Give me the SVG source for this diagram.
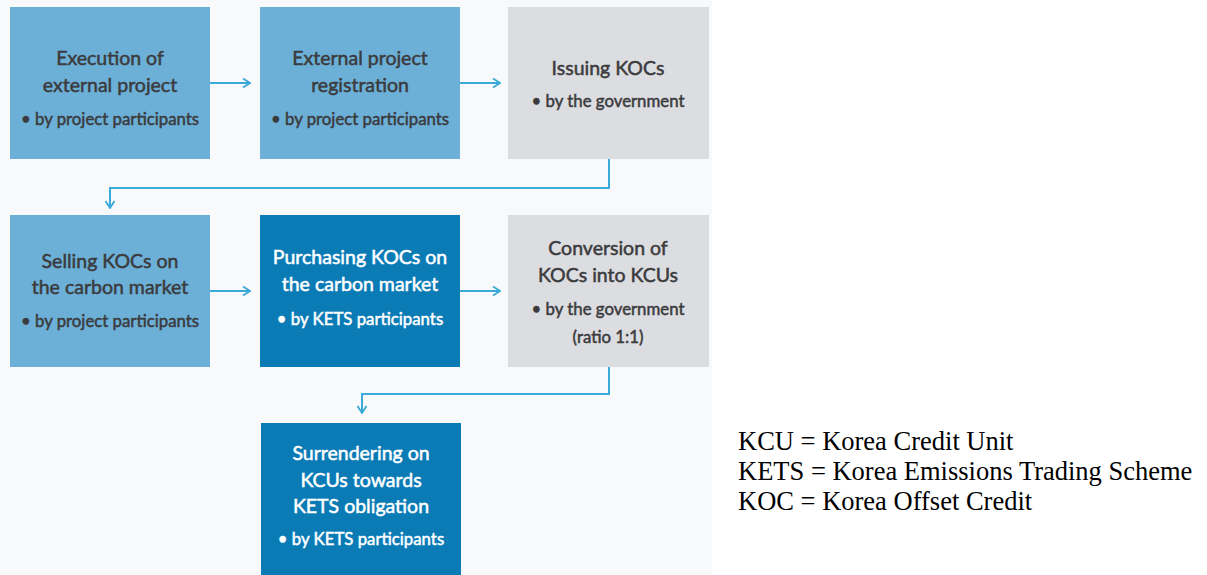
<svg xmlns="http://www.w3.org/2000/svg" width="1207" height="575" viewBox="0 0 1207 575">
  <style>
    .panel { fill: #f8f9fa; }
    .light { fill: #6cb0d8; }
    .dark { fill: #0b7bb6; }
    .grey { fill: #dcdde0; }
    .t { font-family: Lato, "Open Sans", sans-serif; font-size: 19.5px; text-anchor: middle; fill: #3b3b3d; stroke: #3b3b3d; stroke-width: 0.5px; }
    .b { font-size: 16.8px; }
    .w { fill: #ffffff; stroke: #ffffff; }
    .conn { fill: none; stroke: #3aaad8; stroke-width: 2; }
    .legend { font-family: "Liberation Serif", "Times New Roman", serif; font-size: 26.5px; fill: #000; }
  </style>
  <defs>
    <marker id="chev" viewBox="0 0 10 10" refX="9" refY="5" markerWidth="10" markerHeight="10" markerUnits="userSpaceOnUse" orient="auto">
      <path d="M2,0.5 L9,5 L2,9.5" fill="none" stroke="#3aaad8" stroke-width="1.8"/>
    </marker>
  </defs>

  <rect class="panel" x="0" y="0" width="712" height="575"/>

  <g id="n1">
    <rect class="light" x="10" y="7" width="200" height="152"/>
    <text class="t" x="110" y="65">Execution of</text>
    <text class="t" x="110" y="92">external project</text>
    <text class="t b" x="110" y="125">• by project participants</text>
  </g>
  <g id="n2">
    <rect class="light" x="260" y="7" width="200" height="152"/>
    <text class="t" x="360" y="65">External project</text>
    <text class="t" x="360" y="92">registration</text>
    <text class="t b" x="360" y="125">• by project participants</text>
  </g>
  <g id="n3">
    <rect class="grey" x="508" y="7" width="201" height="152"/>
    <text class="t" x="608" y="75">Issuing KOCs</text>
    <text class="t b" x="608" y="107">• by the government</text>
  </g>
  <g id="n4">
    <rect class="light" x="10" y="215" width="200" height="152"/>
    <text class="t" x="110" y="268">Selling KOCs on</text>
    <text class="t" x="110" y="294">the carbon market</text>
    <text class="t b" x="110" y="327">• by project participants</text>
  </g>
  <g id="n5">
    <rect class="dark" x="260" y="215" width="200" height="152"/>
    <text class="t w" x="360" y="264">Purchasing KOCs on</text>
    <text class="t w" x="360" y="291">the carbon market</text>
    <text class="t b w" x="360" y="325">• by KETS participants</text>
  </g>
  <g id="n6">
    <rect class="grey" x="508" y="215" width="201" height="152"/>
    <text class="t" x="608" y="255">Conversion of</text>
    <text class="t" x="608" y="282">KOCs into KCUs</text>
    <text class="t b" x="608" y="315">• by the government</text>
    <text class="t b" x="608" y="343">(ratio 1:1)</text>
  </g>
  <g id="n7">
    <rect class="dark" x="261" y="423" width="200" height="152"/>
    <text class="t w" x="361" y="460">Surrendering on</text>
    <text class="t w" x="361" y="487">KCUs towards</text>
    <text class="t w" x="361" y="513">KETS obligation</text>
    <text class="t b w" x="361" y="545">• by KETS participants</text>
  </g>

  <g id="connectors">
    <path class="conn" d="M210,83 H250" marker-end="url(#chev)"/>
    <path class="conn" d="M460,83 H500" marker-end="url(#chev)"/>
    <path class="conn" d="M609,159 V188 H110 V208" marker-end="url(#chev)"/>
    <path class="conn" d="M210,291 H250" marker-end="url(#chev)"/>
    <path class="conn" d="M460,291 H500" marker-end="url(#chev)"/>
    <path class="conn" d="M609,367 V394 H362 V413" marker-end="url(#chev)"/>
  </g>

  <g id="legend">
    <text class="legend" x="738" y="450">KCU = Korea Credit Unit</text>
    <text class="legend" x="738" y="480">KETS = Korea Emissions Trading Scheme</text>
    <text class="legend" x="738" y="510">KOC = Korea Offset Credit</text>
  </g>
</svg>
